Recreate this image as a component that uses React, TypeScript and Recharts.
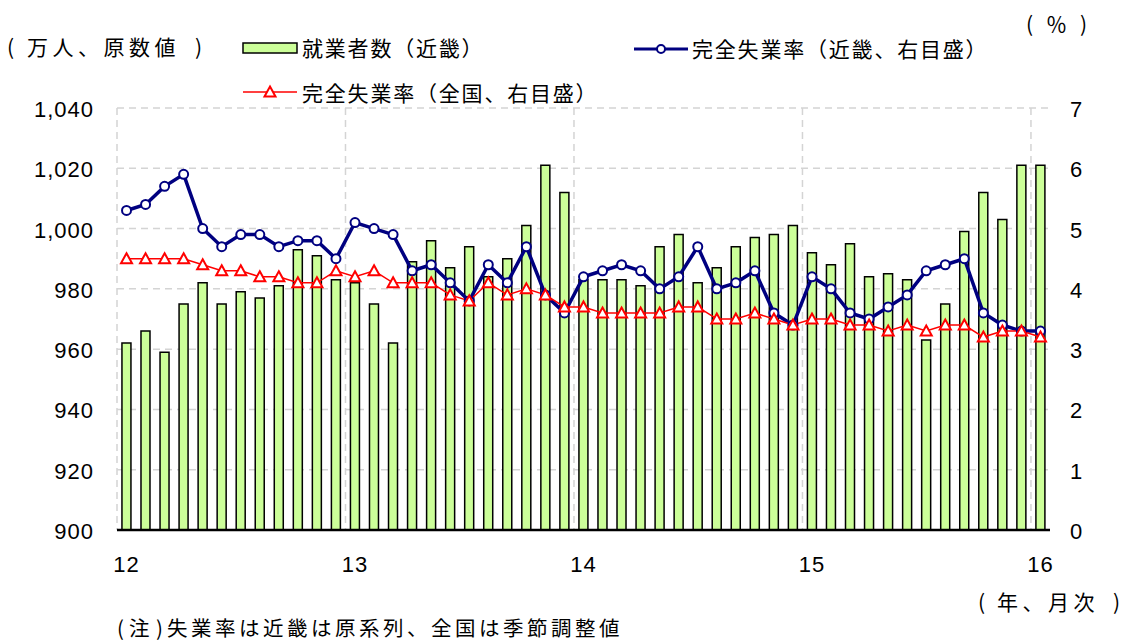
import { Bar, CartesianGrid, ComposedChart, Line, XAxis, YAxis } from 'recharts';

const years = ['12', '13', '14', '15', '16'];
// one category per month, Jan 2012 .. Jan 2016
const periods = Array.from({ length: 49 }, (_, i) => `${years[Math.floor(i / 12)]}/${(i % 12) + 1}`);

// 就業者数（近畿）, 万人
const employed = [
  962, 966, 959, 975, 982, 975, 979, 977, 981, 993, 991, 983,
  982, 975, 962, 989, 996, 987, 994, 984, 990, 1001, 1021, 1012,
  983, 983, 983, 981, 994, 998, 982, 987, 994, 997, 998, 1001,
  992, 988, 995, 984, 985, 983, 963, 975, 999, 1012, 1003, 1021,
  1021,
];

// 完全失業率（近畿）, %
const kinkiRate = [
  5.3, 5.4, 5.7, 5.9, 5.0, 4.7, 4.9, 4.9, 4.7, 4.8, 4.8, 4.5,
  5.1, 5.0, 4.9, 4.3, 4.4, 4.1, 3.8, 4.4, 4.1, 4.7, 3.9, 3.6,
  4.2, 4.3, 4.4, 4.3, 4.0, 4.2, 4.7, 4.0, 4.1, 4.3, 3.6, 3.4,
  4.2, 4.0, 3.6, 3.5, 3.7, 3.9, 4.3, 4.4, 4.5, 3.6, 3.4, 3.3,
  3.3,
];

// 完全失業率（全国）, %
const nationalRate = [
  4.5, 4.5, 4.5, 4.5, 4.4, 4.3, 4.3, 4.2, 4.2, 4.1, 4.1, 4.3,
  4.2, 4.3, 4.1, 4.1, 4.1, 3.9, 3.8, 4.1, 3.9, 4.0, 3.9, 3.7,
  3.7, 3.6, 3.6, 3.6, 3.6, 3.7, 3.7, 3.5, 3.5, 3.6, 3.5, 3.4,
  3.5, 3.5, 3.4, 3.4, 3.3, 3.4, 3.3, 3.4, 3.4, 3.2, 3.3, 3.3,
  3.2,
];

const leftTicks = [900, 920, 940, 960, 980, 1000, 1020, 1040];
const rightTicks = [0, 1, 2, 3, 4, 5, 6, 7];

const data = periods.map((period, i) => ({
  period,
  employed: employed[i],
  kinki: kinkiRate[i],
  national: nationalRate[i],
}));

const NUM_FONT = '"Liberation Sans", Arial, sans-serif';
const JP_FONT = '"Noto Sans CJK JP", "Noto Sans", sans-serif';
const NAVY = '#000080';
const RED = '#ff0000';

function LeftTick({ x, y, payload }: any) {
  return (
    <text x={x} y={y} dy={9} textAnchor="end" fontSize={22} letterSpacing={1} fontFamily={NUM_FONT} fill="#000">
      {Number(payload.value).toLocaleString('en-US')}
    </text>
  );
}

function RightTick({ x, y, payload }: any) {
  return (
    <text x={x} y={y} dy={9} textAnchor="start" fontSize={22} fontFamily={NUM_FONT} fill="#000">
      {payload.value}
    </text>
  );
}

function YearTick({ x, y, payload }: any) {
  return (
    <text x={x} y={y} dy={24} textAnchor="middle" fontSize={22} letterSpacing={1} fontFamily={NUM_FONT} fill="#000">
      {String(payload.value).split('/')[0]}
    </text>
  );
}

function TriangleDot({ cx, cy }: any) {
  if (cx == null || cy == null) return null;
  return (
    <path
      d={`M${cx},${cy - 5.5} L${cx + 5.5},${cy + 4.5} L${cx - 5.5},${cy + 4.5} Z`}
      fill="#fff"
      stroke={RED}
      strokeWidth={2}
    />
  );
}

// dashed verticals sit on the left edge of each January band
function yearBoundaries({ xAxis, offset }: any) {
  const scale = xAxis?.scale;
  return periods
    .map((p, i) => ({ p, i }))
    .filter(({ i }) => i % 12 === 0)
    .map(({ p, i }) => {
      const v = typeof scale === 'function' ? scale(p) : undefined;
      return typeof v === 'number' && !Number.isNaN(v) ? v : offset.left + (i * offset.width) / periods.length;
    });
}

export default function App() {
  return (
    <div style={{ position: 'absolute', left: 0, top: 0, width: 1128, height: 644, overflow: 'hidden', background: '#fff' }}>
      <ComposedChart
        width={1128}
        height={644}
        data={data}
        margin={{ top: 108, right: 18, left: 17, bottom: 74 }}
        barCategoryGap="26%"
      >
        <CartesianGrid
          yAxisId="left"
          stroke="#d4d4d4"
          strokeWidth={1.5}
          strokeDasharray="7 5"
          verticalCoordinatesGenerator={yearBoundaries}
        />
        <XAxis
          dataKey="period"
          interval={11}
          tick={<YearTick />}
          tickLine={false}
          tickSize={0}
          tickMargin={18}
          axisLine={{ stroke: '#000', strokeWidth: 2.5 }}
          height={40}
        />
        <YAxis
          yAxisId="left"
          domain={[900, 1040]}
          ticks={leftTicks}
          tick={<LeftTick />}
          axisLine={false}
          tickLine={false}
          tickSize={0}
          tickMargin={23}
          width={100}
          allowDataOverflow
        />
        <YAxis
          yAxisId="right"
          orientation="right"
          domain={[0, 7]}
          ticks={rightTicks}
          tick={<RightTick />}
          axisLine={false}
          tickLine={false}
          tickSize={0}
          tickMargin={20}
          width={60}
        />
        <Bar yAxisId="left" dataKey="employed" fill="#ccff99" stroke="#000" strokeWidth={1.5} isAnimationActive={false} />
        <Line
          yAxisId="right"
          dataKey="kinki"
          type="linear"
          stroke={NAVY}
          strokeWidth={3.5}
          dot={{ r: 4.5, fill: '#fff', stroke: NAVY, strokeWidth: 2 }}
          isAnimationActive={false}
        />
        <Line
          yAxisId="right"
          dataKey="national"
          type="linear"
          stroke={RED}
          strokeWidth={1.5}
          dot={<TriangleDot />}
          isAnimationActive={false}
        />
      </ComposedChart>

      <svg
        width={1128}
        height={644}
        style={{ position: 'absolute', left: 0, top: 0, pointerEvents: 'none' }}
        fontFamily={JP_FONT}
        fontSize={21}
        fill="#000"
      >
        <g dominantBaseline="central">
          <text x={7} y={46}>(</text>
          <text x={27} y={46} letterSpacing={4.5}>万人、原数値</text>
          <text x={195} y={46}>)</text>

          <text x={1026} y={23}>(</text>
          <text x={1046} y={23}>％</text>
          <text x={1080} y={23}>)</text>

          <text x={978} y={601}>(</text>
          <text x={997} y={601} letterSpacing={4.5}>年、月次</text>
          <text x={1113} y={601}>)</text>

          <text x={117} y={627} fontSize={20.5}>(</text>
          <text x={129} y={627} fontSize={20.5}>注</text>
          <text x={156} y={627} fontSize={20.5}>)</text>
          <text x={167} y={627} fontSize={20.5} letterSpacing={3.5}>失業率は近畿は原系列、全国は季節調整値</text>

          <text x={302} y={47} letterSpacing={1.8}>就業者数（近畿）</text>
          <text x={692} y={48} letterSpacing={1.8}>完全失業率（近畿、右目盛）</text>
          <text x={302} y={92} letterSpacing={1.8}>完全失業率（全国、右目盛）</text>
        </g>

        <rect x={243} y={43} width={54} height={10} fill="#ccff99" stroke="#000" strokeWidth={1.5} />

        <line x1={634} y1={49} x2={688} y2={49} stroke={NAVY} strokeWidth={3} />
        <circle cx={661} cy={49} r={4} fill="#fff" stroke={NAVY} strokeWidth={2} />

        <line x1={243} y1={92} x2={297} y2={92} stroke={RED} strokeWidth={1.5} />
        <TriangleDot cx={270} cy={92} />
      </svg>
    </div>
  );
}
